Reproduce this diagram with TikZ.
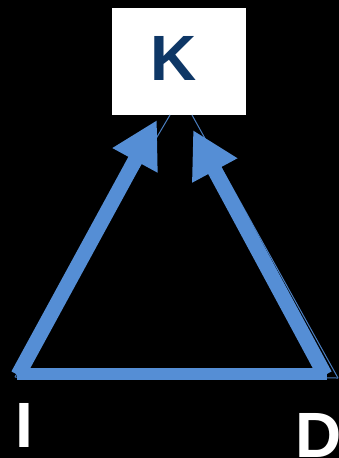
\documentclass[tikz,border=0pt]{standalone}
\usepackage{fontspec}
\setmainfont{Liberation Sans}
\usetikzlibrary{arrows.meta}
\definecolor{arrowblue}{HTML}{558ED5}
\definecolor{thinblue}{HTML}{4A7EC0}
\definecolor{knavy}{HTML}{0E3766}
\tikzset{
  thick arrow/.style={draw=arrowblue, line width=15pt, -{Triangle[length=46pt,width=48pt]}},
  thick line/.style={draw=arrowblue, line width=12pt},
  thin line/.style={draw=thinblue, line width=1pt},
  kbox/.style={fill=white, draw=none, minimum width=134pt, minimum height=107pt, inner sep=0pt,
    font=\bfseries\fontsize{64pt}{64pt}\selectfont, text=knavy},
  letter/.style={anchor=base west, inner sep=0pt, text height=46pt, text depth=0pt, text=white, font=\bfseries\fontsize{64pt}{64pt}\selectfont}
}
\begin{document}
\begin{tikzpicture}[x=1pt,y=-1pt]
\fill[black] (0,0) rectangle (339,458);
\useasboundingbox (0,0) rectangle (339,458);
\node[kbox] (K) at (179,61.5) {\raisebox{6pt}{K\kern10pt}};
\coordinate (kl) at (170,115);
\coordinate (kr) at (192,115);
\coordinate (il) at (15,377);
\coordinate (dr) at (338,378);
\coordinate (ls) at (18,375);
\coordinate (lt) at (157,120);
\coordinate (rs) at (325,375);
\coordinate (rt) at (193,130);
\coordinate (bl) at (17,374);
\coordinate (br) at (327,374);
% thin connectors (outline)
\draw[thin line] (kl) -- (il);
\draw[thin line] (kr) -- (dr);
\draw[thin line] (il) -- (dr);
% thick arrows and base
\draw[thick line] (bl) -- (br);
\draw[thick arrow] (ls) -- (lt);
\draw[thick arrow] (rs) -- (rt);
\node[letter] (I) at (15,447) {I};
\node[letter] (D) at (295,457) {D};
\end{tikzpicture}
\end{document}
